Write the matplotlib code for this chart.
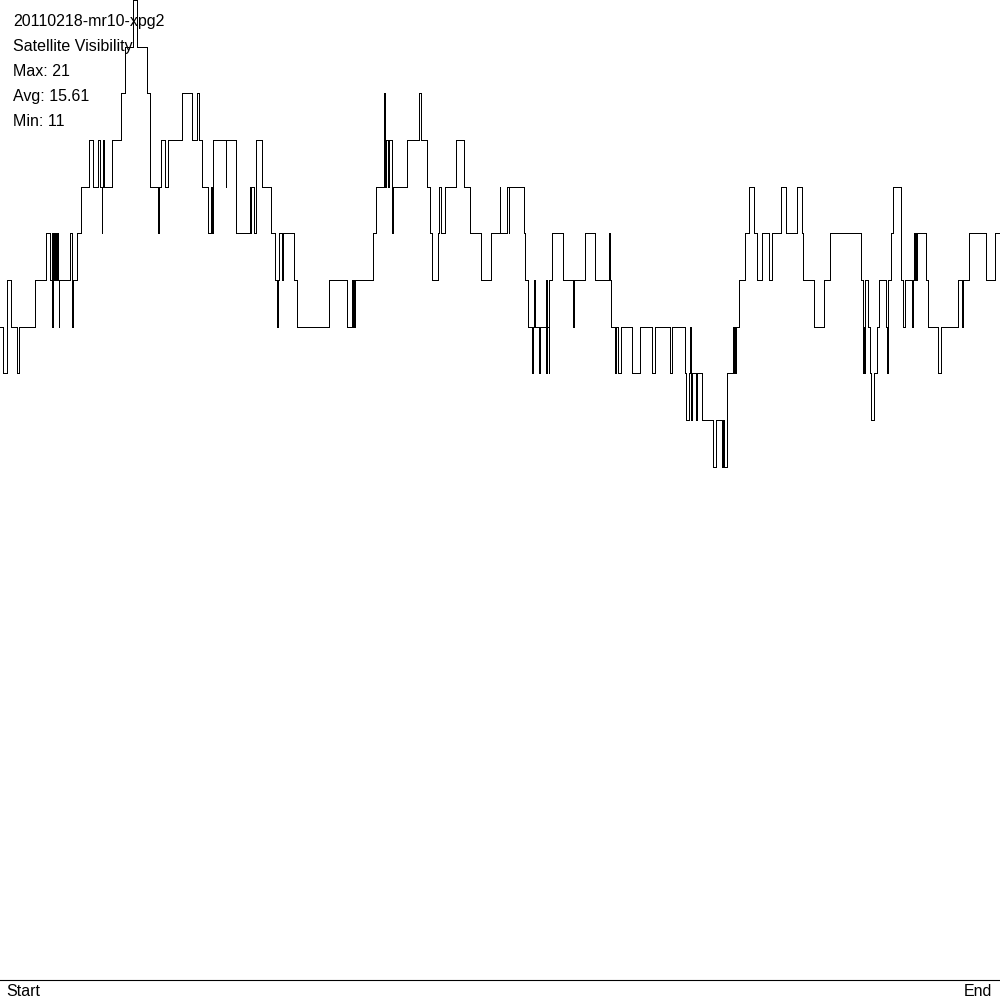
import numpy as np
import matplotlib
matplotlib.use("Agg")
import matplotlib.pyplot as plt

# ---- data: sample position (0..1000 of the track) and number of visible satellites ----
t = [0, 3.3, 6.7, 7.3, 11.3, 17.3, 19.3, 35, 46, 50, 51.7, 52, 52.3, 52.6, 53, 53.5, 54, 54.5, 55, 55.5, 56,
     56.7, 57.3, 58.3, 59, 59.3, 70, 71.7, 72.3, 72.6, 76.7, 80.7, 88.7, 93.3, 98.3,
     100, 101.5, 101.8, 102.7, 104, 112.3, 121, 125, 132.7, 136.7, 147.3, 150, 158.2, 158.5, 160.7, 165,
     168.3, 181.7, 192.3, 196.7, 199,
     201.7, 208.3, 210.7, 211.2, 211.7, 212.2, 212.7, 213.3, 226, 226.3, 236, 250, 250.6, 251.1, 254, 256,
     262.3, 271, 275.3, 277.3, 277.6, 278.7, 282, 282.4, 282.8, 283.2, 294.3, 297.3,
     329.3, 347.3, 351.7, 352.2, 352.7, 353.2, 353.7, 354.2, 355, 357.3, 373.3, 376.3, 384.3, 384.6, 385,
     385.3, 385.7, 388.2, 388.5, 392.3, 392.6,
     407.3, 419.3, 421.3, 427.3, 430.3, 432.3, 438.3, 439.3, 441.3, 445.3, 456.3, 464.3, 470.3, 481.3, 491.3,
     499.8, 500.2, 507.3, 509, 509.3, 524.3, 525.3, 528.3, 532.3, 532.6, 534.3, 534.6, 539.3, 539.6, 546,
     546.4, 546.8, 547.2, 548.7, 549, 549.3, 552.3, 563.3, 573.3, 573.6, 585.3, 594.7,
     609.3, 609.6, 611.3, 615, 615.3, 616, 616.3, 618.3, 620.7, 632.3, 640.3, 651.7, 655.3, 669.7, 671.7,
     684.7, 686.3, 689.3, 690.2, 690.5, 691.3, 691.6, 696.3, 696.6,
     701.7, 713.3, 716, 722, 722.5, 723, 723.5, 724, 725, 727.3, 733.3, 733.8, 734.3, 734.8, 735.3, 735.8,
     736.3, 739.3, 745.3, 749.3, 754.3, 757.3, 762.3, 769.3, 772.3, 781.3, 786.3, 797.3,
     801.7, 802.7, 814.3, 824.3, 830.3, 861.3, 863.3, 863.7, 864.2, 864.7, 867.7, 868, 868.3, 870.3, 871.3,
     874, 877.3, 879.3, 886.3, 887.2, 887.5, 887.7, 891.3, 893.3,
     900.7, 903.3, 905.3, 912.3, 912.6, 914.3, 914.7, 915.1, 915.5, 915.9, 916.3, 916.7, 926.3, 928.3,
     938.3, 941.3, 958.3, 961.7, 962.1, 962.5, 962.9, 969.3, 986.3, 995.3, 1000]

sats = [14, 13, 14, 15, 14, 13, 14, 15, 16, 15, 16, 15, 14, 15, 16, 15, 16, 15, 16, 15, 16,
        15, 16, 15, 14, 15, 16, 15, 14, 15, 16, 17, 18, 17, 18,
        17, 16, 17, 18, 17, 18, 19, 20, 21, 20, 19, 17, 16, 17, 18, 17,
        18, 19, 18, 19, 18,
        17, 16, 17, 16, 17, 16, 17, 18, 17, 18, 16, 17, 16, 17, 16, 18,
        17, 16, 15, 14, 15, 16, 15, 16, 15, 16, 15, 14,
        15, 14, 15, 14, 15, 14, 15, 14, 15, 15, 16, 17, 19, 17, 18,
        17, 18, 17, 18, 16, 17,
        18, 19, 18, 17, 16, 15, 16, 17, 16, 17, 18, 17, 16, 15, 16,
        17, 16, 17, 16, 17, 16, 15, 14, 13, 14, 15, 14, 13, 14, 15,
        13, 15, 14, 13, 14, 15, 16, 15, 14, 15, 16, 15,
        16, 15, 14, 13, 14, 13, 14, 13, 14, 13, 14, 13, 14, 13, 14,
        13, 12, 13, 14, 13, 12, 13, 12, 13,
        12, 11, 12, 11, 12, 11, 12, 11, 11, 13, 14, 13, 14, 13, 14, 13,
        14, 15, 16, 17, 16, 15, 16, 15, 16, 17, 16, 17,
        16, 15, 14, 15, 16, 15, 13, 14, 13, 15, 14, 15, 14, 13, 12,
        13, 14, 15, 14, 13, 14, 15, 16, 17,
        15, 14, 15, 14, 15, 16, 15, 16, 15, 16, 15, 16, 15, 14,
        13, 14, 15, 14, 15, 14, 15, 16, 15, 16, 16]

title_lines = ["20110218-mr10-xpg2", "Satellite Visibility", "Max: 21", "Avg: 15.61", "Min: 11"]
x_labels = ["Start", "End"]

# ---- figure ----
fig = plt.figure(figsize=(10, 10), dpi=100)
fig.patch.set_facecolor("white")
ax = fig.add_axes([0, 0.02, 1, 0.98])
ax.set_xlim(0, 1000)
ax.set_ylim(0, 21)
ax.axis("off")

ax.step(t, sats, where="post", color="black", lw=0.6, antialiased=False, clip_on=False)
ax.axhline(0, color="black", lw=0.8, clip_on=False)

font = ["Liberation Sans", "DejaVu Sans"]
baselines = [26, 51, 76, 101, 126]
for txt, yb in zip(title_lines, baselines):
    fig.text(13 / 1000, 1 - yb / 1000, txt, family=font, fontsize=11.5,
             ha="left", va="baseline", color="black", zorder=10)

fig.text(6 / 1000, 1 - 996 / 1000, x_labels[0], family=font, fontsize=11.5,
         ha="left", va="baseline", color="black")
fig.text(992 / 1000, 1 - 996 / 1000, x_labels[1], family=font, fontsize=11.5,
         ha="right", va="baseline", color="black")

fig.savefig("out.png", dpi=100, facecolor="white")
